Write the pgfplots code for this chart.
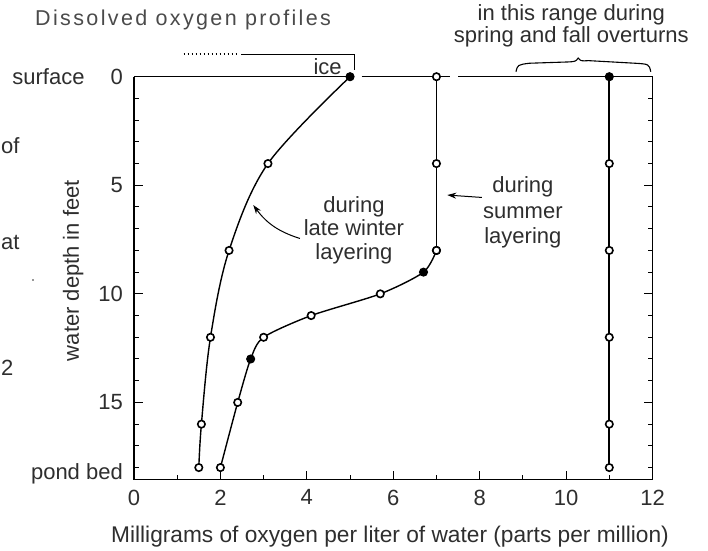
\documentclass[border=0pt]{standalone}
\usepackage{fontspec}
\setmainfont{Liberation Sans}
\newfontfamily\titlefont[LetterSpace=11]{Liberation Sans}
\usepackage{pgfplots}
\pgfplotsset{compat=1.18}
\usetikzlibrary{arrows.meta}
\definecolor{txt}{HTML}{2E2E2E}
\definecolor{ttl}{HTML}{4A4A4A}
\newcommand{\fs}{\fontsize{22}{24}\selectfont}
\begin{document}
\begin{tikzpicture}
\useasboundingbox (-134pt,-70.5pt) rectangle (574pt,479.5pt);
\begin{axis}[
  at={(0pt,0pt)}, anchor=south west, scale only axis,
  width=518.5pt, height=402.8pt,
  xmin=0, xmax=12, ymin=0, ymax=18.55, y dir=reverse,
  clip=false,
  axis line style={draw=none},
  /pgf/number format/assume math mode=true,
  xtick={0,2,...,12}, minor xtick={1,3,...,11},
  xtick pos=left,
  ytick={0,5,10,15}, yticklabels={surface\hspace{26pt}0,5,10,15},
  minor ytick={1,...,18},
  tick align=inside,
  major tick length=9pt, minor tick length=5pt,
  tick style={black, line width=1pt},
  ticklabel style={font=\fs, text=txt},
  xticklabel style={inner sep=0pt, anchor=north, yshift=-10pt},
  yticklabel style={inner sep=0pt, anchor=east, xshift=-11pt},
]
% frame (top line has gaps)
\draw[line width=1.4pt] (axis cs:0,0) -- (axis cs:0,18.55) -- (axis cs:12,18.55) -- (axis cs:12,0);
\draw[line width=1.2pt] (axis cs:0,0) -- (axis cs:5.1,0);
\draw[line width=1.2pt] (axis cs:5.27,0) -- (axis cs:7.32,0);
\draw[line width=1.2pt] (axis cs:7.5,0) -- (axis cs:12,0);
% late winter layering
\addplot[black, line width=1.4pt, smooth, tension=0.55, mark=*, mark size=3.7pt,
  mark options={fill=white, draw=black, line width=1.6pt}]
  coordinates {(5,0) (3.1,4) (2.2,8) (1.77,12) (1.56,16) (1.5,18)};
\addplot[only marks, mark=*, mark size=3.9pt, black] coordinates {(5,0)};
% summer layering
\addplot[black, line width=1.1pt, mark=*, mark size=3.7pt,
  mark options={fill=white, draw=black, line width=1.6pt}]
  coordinates {(7,0) (7,4) (7,8)};
\addplot[black, line width=1.4pt, smooth, tension=0.45, mark=*, mark size=3.7pt,
  mark options={fill=white, draw=black, line width=1.6pt}]
  coordinates {(7,8) (6.7,9) (5.7,10) (4.1,11) (3.0,12) (2.7,13) (2.4,15) (2.0,18)};
\addplot[only marks, mark=*, mark size=3.7pt, black] coordinates {(6.7,9) (2.7,13)};
% spring and fall overturns
\addplot[black, line width=2.2pt, mark=*, mark size=3.7pt,
  mark options={fill=white, draw=black, line width=1.6pt}]
  coordinates {(11,0) (11,4) (11,8) (11,12) (11,16) (11,18)};
\addplot[only marks, mark=*, mark size=3.9pt, black] coordinates {(11,0)};
% ice
\draw[line width=1.6pt, dash pattern=on 1.5pt off 2.5pt] (axis cs:1.15,-1.04) -- (axis cs:2.4,-1.04);
\draw[line width=1.1pt] (axis cs:2.48,-1.04) -- (axis cs:5.1,-1.04) -- (axis cs:5.1,-0.3);
\node[font=\fs, text=txt, inner sep=0pt] at (axis cs:4.48,-0.47) {ice};
% annotations
\node[font=\fontsize{22}{23.5}\selectfont, text=txt, align=center, inner sep=0pt] at (axis cs:5.09,7.06) {during\\late winter\\layering};
\draw[-{Stealth[length=9pt,width=6pt]}, line width=1pt] (axis cs:3.84,7.45) to[bend left=18] (axis cs:2.76,5.91);
\node[font=\fontsize{22}{25.5}\selectfont, text=txt, align=center, inner sep=0pt] at (axis cs:9.0,6.26) {during\\summer\\layering};
\draw[-{Stealth[length=9pt,width=6pt]}, line width=1pt] (axis cs:8.05,5.56) -- (axis cs:7.25,5.45);
\node[font=\fontsize{22}{21.7}\selectfont, text=txt, align=center, inner sep=0pt] at (axis cs:10.12,-2.34) {in this range during\\spring and fall overturns};
\draw[line width=1.1pt] (axis cs:8.84,-0.23) .. controls (axis cs:8.88,-0.55) .. (axis cs:9.15,-0.62)
  -- (axis cs:10.05,-0.68) .. controls (axis cs:10.22,-0.7) .. (axis cs:10.28,-0.86)
  .. controls (axis cs:10.34,-0.72) .. (axis cs:10.52,-0.74)
  -- (axis cs:11.6,-0.62) .. controls (axis cs:11.92,-0.58) .. (axis cs:11.96,-0.23);
\node[font=\fs, text=txt, anchor=east, inner sep=0pt, xshift=-11pt] at (axis cs:0,18.3) {pond bed};
\end{axis}
% outer texts
\node[font=\titlefont\fontsize{21.5}{24}\selectfont, text=ttl, anchor=west, inner sep=0pt] at (-99pt,459.5pt) {Dissolved oxygen profiles};
\node[font=\fs, text=txt, rotate=90, inner sep=0pt] at (-60.7pt,208.9pt) {water depth in feet};
\node[font=\fontsize{22.7}{26}\selectfont, text=txt, inner sep=0pt] at (256pt,-57.5pt) {Milligrams of oxygen per liter of water (parts per million)};
\node[font=\fs, text=txt, anchor=west, inner sep=0pt] at (-133pt,333.5pt) {of};
\node[font=\fs, text=txt, anchor=west, inner sep=0pt] at (-133pt,237.5pt) {at};
\node[font=\fs, text=txt, anchor=west, inner sep=0pt] at (-133pt,111.5pt) {2};
\fill[txt] (-101pt,199.5pt) circle (0.8pt);
\end{tikzpicture}
\end{document}
